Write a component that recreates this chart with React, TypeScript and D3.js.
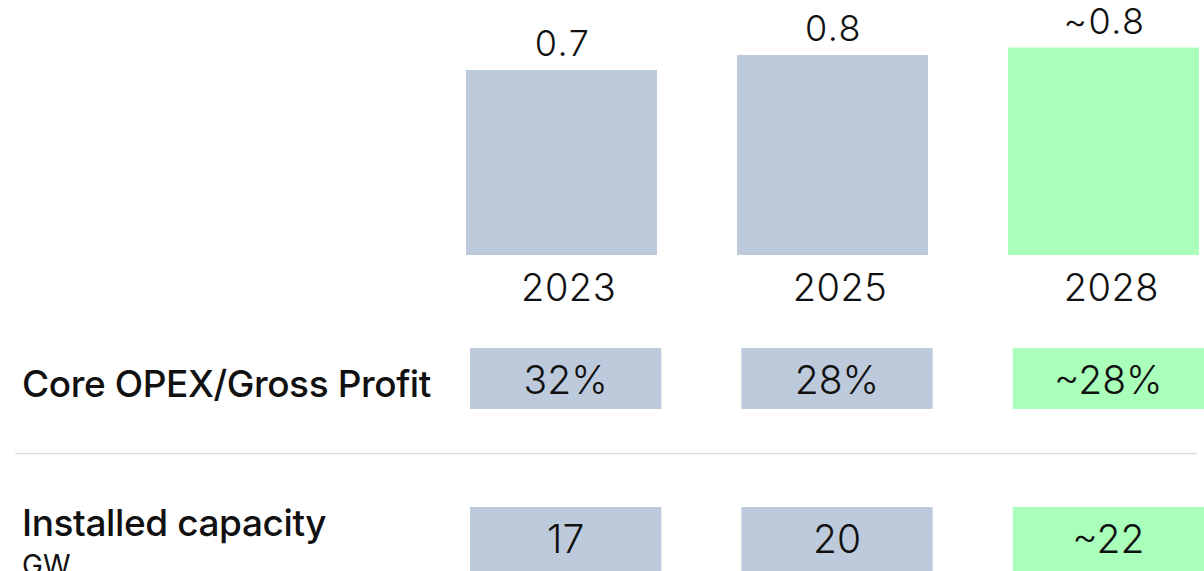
import React from "react";
import * as d3 from "d3";

const years = ["2023", "2025", "2028"];
const values = [0.74, 0.8, 0.83];
const valueLabels = ["0.7", "0.8", "~0.8"];
const forecast = [false, false, true];
const opexLabels = ["32%", "28%", "~28%"];
const capacityLabels = ["17", "20", "~22"];

const W = 1204;
const H = 571;
const FONT = "Inter, 'Noto Sans', sans-serif";
const GREY = "#bccadb";
const GREEN = "#aaffbb";
const INK = "#111111";

export default function App() {
  const x = d3.scaleBand<string>().domain(years).range([466, 1199]).paddingInner(0.295).paddingOuter(0);
  const xt = d3.scaleBand<string>().domain(years).range([470, 1204]).paddingInner(0.295).paddingOuter(0);
  const y = d3.scaleLinear().domain([0, 1]).range([255, 5]);
  const bw = x.bandwidth();
  const tw = xt.bandwidth();
  const fill = (i: number) => (forecast[i] ? GREEN : GREY);

  return (
    <svg width={W} height={H} style={{ position: "absolute", left: 0, top: 0 }} fontFamily={FONT}>
      <rect width={W} height={H} fill="#fff" />
      {years.map((yr, i) => (
        <g key={yr}>
          <rect x={x(yr)} y={y(values[i])} width={bw} height={y(0) - y(values[i])} fill={fill(i)} />
          <text x={x(yr)! + bw / 2 + 1} y={y(values[i]) - 14} textAnchor="middle" fontSize={36} letterSpacing={1.5} fill={INK} fontWeight={300}>
            {valueLabels[i]}
          </text>
          <text x={xt(yr)! + tw / 2 + 3} y={301} textAnchor="middle" fontSize={38} letterSpacing={0.5} fill={INK} fontWeight={300}>
            {yr}
          </text>
        </g>
      ))}

      <text x={22} y={397} fontSize={37} fontWeight={500} letterSpacing={-0.4} fill={INK}>Core OPEX/Gross Profit</text>
      {years.map((yr, i) => (
        <g key={"o" + yr}>
          <rect x={xt(yr)} y={348} width={tw} height={61} fill={fill(i)} />
          <text x={xt(yr)! + tw / 2} y={394} textAnchor="middle" fontSize={39} fontWeight={300} fill={INK}>
            {opexLabels[i]}
          </text>
        </g>
      ))}

      <line x1={15} x2={1197} y1={453.5} y2={453.5} stroke="#dddddd" strokeWidth={1.5} />

      <text x={22} y={536} fontSize={37} fontWeight={500} letterSpacing={-0.4} fill={INK}>Installed capacity</text>
      <text x={22} y={575} fontSize={28} fontWeight={400} fill={INK}>GW</text>
      {years.map((yr, i) => (
        <g key={"c" + yr}>
          <rect x={xt(yr)} y={507} width={tw} height={64} fill={fill(i)} />
          <text x={xt(yr)! + tw / 2} y={553} textAnchor="middle" fontSize={39} fontWeight={300} fill={INK}>
            {capacityLabels[i]}
          </text>
        </g>
      ))}
    </svg>
  );
}
